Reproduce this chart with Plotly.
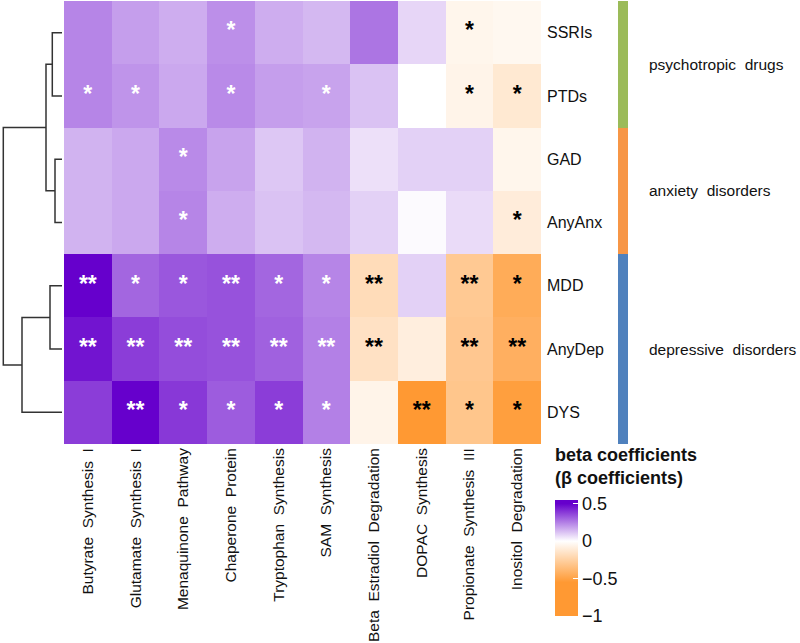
import plotly.graph_objects as go

# ── Data ─────────────────────────────────────────────────────────────────────
COLUMNS = [
    "Butyrate Synthesis I", "Glutamate Synthesis I", "Menaquinone Pathway",
    "Chaperone Protein", "Tryptophan Synthesis", "SAM Synthesis",
    "Beta Estradiol Degradation", "DOPAC Synthesis", "Propionate Synthesis III",
    "Inositol Degradation",
]
ROWS = ["SSRIs", "PTDs", "GAD", "AnyAnx", "MDD", "AnyDep", "DYS"]

BETA = [
    [0.24, 0.19, 0.16, 0.22, 0.16, 0.14, 0.27, 0.08, -0.05, -0.04],
    [0.24, 0.21, 0.17, 0.23, 0.19, 0.18, 0.12, 0.00, -0.06, -0.12],
    [0.15, 0.17, 0.23, 0.18, 0.11, 0.15, 0.06, 0.09, 0.09, -0.05],
    [0.15, 0.17, 0.24, 0.16, 0.12, 0.14, 0.09, 0.01, 0.07, -0.10],
    [0.50, 0.30, 0.33, 0.34, 0.30, 0.24, -0.19, 0.09, -0.29, -0.45],
    [0.46, 0.38, 0.35, 0.34, 0.31, 0.25, -0.16, -0.09, -0.30, -0.43],
    [0.38, 0.50, 0.39, 0.32, 0.38, 0.25, -0.06, -0.80, -0.31, -0.52],
]
SIG = [
    ["", "", "", "*", "", "", "", "", "*", ""],
    ["*", "*", "", "*", "", "*", "", "", "*", "*"],
    ["", "", "*", "", "", "", "", "", "", ""],
    ["", "", "*", "", "", "", "", "", "", "*"],
    ["**", "*", "*", "**", "*", "*", "**", "", "**", "*"],
    ["**", "**", "**", "**", "**", "**", "**", "", "**", "**"],
    ["", "**", "*", "*", "*", "*", "", "**", "*", "*"],
]

GROUPS = ["psychotropic drugs", "anxiety disorders", "depressive disorders"]
GROUP_OF_ROW = [0, 0, 1, 1, 2, 2, 2]

# row dendrogram: leaves 0-6, new clusters numbered 7, 8, ...
MERGE_LEFT = [0, 2, 7, 4, 10, 9]
MERGE_RIGHT = [1, 3, 8, 5, 6, 11]
MERGE_HEIGHT = [0.97, 0.70, 1.60, 1.20, 4.00, 5.87]

CB_TICKS = [0.5, 0, -0.5, -1]
CB_TITLE = ["beta coefficients", "(\u03b2 coefficients)"]

# ── Style ────────────────────────────────────────────────────────────────────
PURPLE = "#6600CC"
ORANGE = "#FF9933"
GROUP_COLORS = ["#9BBB59", "#F79646", "#4F81BD"]
FONT = "Arial, Liberation Sans, sans-serif"
TEXT = "#111111"
W, H = 800, 643
ZMIN, ZMAX = -1.0, 0.55


def px_x(p):
    return p / W


def px_y(p):
    return 1 - p / H


def frac(v):
    return (v - ZMIN) / (ZMAX - ZMIN)


colorscale = [
    [0.0, ORANGE], [frac(-0.55), ORANGE], [frac(0.0), "#FFFFFF"],
    [frac(0.5), PURPLE], [1.0, PURPLE],
]

fig = go.Figure()

# main heatmap
fig.add_trace(go.Heatmap(
    z=BETA, x=list(range(len(COLUMNS))), y=list(range(len(ROWS))),
    zmin=ZMIN, zmax=ZMAX, colorscale=colorscale,
    colorbar=dict(
        x=px_x(555), xanchor="left", xpad=0,
        y=px_y(500), yanchor="top", ypad=0,
        len=116, lenmode="pixels", thickness=23,
        outlinewidth=0,
        tickvals=CB_TICKS, ticktext=["0.5", "0", "\u22120.5", "\u22121"],
        ticks="inside", ticklen=5, tickcolor="white",
        tickfont=dict(size=18, color=TEXT, family=FONT),
    ),
    hoverinfo="skip",
))

# significance stars
for color, keep in (("white", lambda v: v > 0), ("black", lambda v: v <= 0)):
    xs, ys, ts = [], [], []
    for i, row in enumerate(SIG):
        for j, s in enumerate(row):
            if s and keep(BETA[i][j]):
                xs.append(j)
                ys.append(i)
                ts.append(s)
    fig.add_trace(go.Scatter(
        x=xs, y=ys, text=ts, mode="text", textposition="middle center",
        textfont=dict(size=23, color=color, family=FONT, weight="bold"),
        showlegend=False, hoverinfo="skip",
    ))

# dendrogram
pos = {i: float(i) for i in range(len(ROWS))}
hgt = {i: 0.0 for i in range(len(ROWS))}
dx, dy = [], []
for k, (a, b, h) in enumerate(zip(MERGE_LEFT, MERGE_RIGHT, MERGE_HEIGHT)):
    node = len(ROWS) + k
    dx += [hgt[a], h, h, hgt[b], None]
    dy += [pos[a], pos[a], pos[b], pos[b], None]
    pos[node] = (pos[a] + pos[b]) / 2
    hgt[node] = h
fig.add_trace(go.Scatter(
    x=dx, y=dy, mode="lines", xaxis="x2", yaxis="y",
    line=dict(color="#333333", width=1.5),
    showlegend=False, hoverinfo="skip",
))

# group annotation bar
fig.add_trace(go.Heatmap(
    z=[[g] for g in GROUP_OF_ROW], x=[0], y=list(range(len(ROWS))),
    xaxis="x3", yaxis="y",
    zmin=0, zmax=2, showscale=False, hoverinfo="skip",
    colorscale=[[0, GROUP_COLORS[0]], [0.5, GROUP_COLORS[1]], [1, GROUP_COLORS[2]]],
))

for g, name in enumerate(GROUPS):
    rows = [i for i, r in enumerate(GROUP_OF_ROW) if r == g]
    fig.add_annotation(
        x=px_x(647), xref="paper", xanchor="left",
        y=sum(rows) / len(rows), yref="y", yanchor="middle",
        text=name.replace(" ", "\u00a0 "), showarrow=False,
        font=dict(size=15.5, color=TEXT, family=FONT),
    )

# colorbar title
fig.add_annotation(
    x=px_x(553), xref="paper", xanchor="left",
    y=px_y(466), yref="paper", yanchor="middle",
    text="<br>".join(f"<b>{t}</b>" for t in CB_TITLE), align="left",
    showarrow=False, font=dict(size=18, color=TEXT, family=FONT),
)

fig.update_layout(
    width=W, height=H,
    margin=dict(l=0, r=0, t=0, b=0, autoexpand=False),
    paper_bgcolor="white", plot_bgcolor="white",
    font=dict(family=FONT, color=TEXT),
    showlegend=False,
    xaxis=dict(
        domain=[px_x(64), px_x(541)], range=[-0.5, len(COLUMNS) - 0.5],
        tickvals=list(range(len(COLUMNS))),
        ticktext=[c.replace(" ", "\u00a0 ") for c in COLUMNS],
        tickangle=-90, ticks="", showgrid=False, zeroline=False,
        automargin=False,
        tickfont=dict(size=15.5, color=TEXT, family=FONT),
    ),
    yaxis=dict(
        domain=[px_y(444), px_y(1)], range=[len(ROWS) - 0.5, -0.5],
        tickvals=list(range(len(ROWS))), ticktext=ROWS, side="right",
        ticks="", showgrid=False, zeroline=False, automargin=False,
        ticklabelstandoff=5,
        tickfont=dict(size=16, color=TEXT, family=FONT),
    ),
    xaxis2=dict(
        domain=[0, px_x(62)], range=[6.2, 0], anchor="y",
        visible=False, showgrid=False, zeroline=False,
    ),
    xaxis3=dict(
        domain=[px_x(618), px_x(628)], range=[-0.5, 0.5], anchor="y",
        visible=False, showgrid=False, zeroline=False,
    ),
)

# page body has a default margin; remove it so the figure sits at the corner
fig.write_html("out.html", config={"displayModeBar": False},
               post_script="document.body.style.margin='0';")
